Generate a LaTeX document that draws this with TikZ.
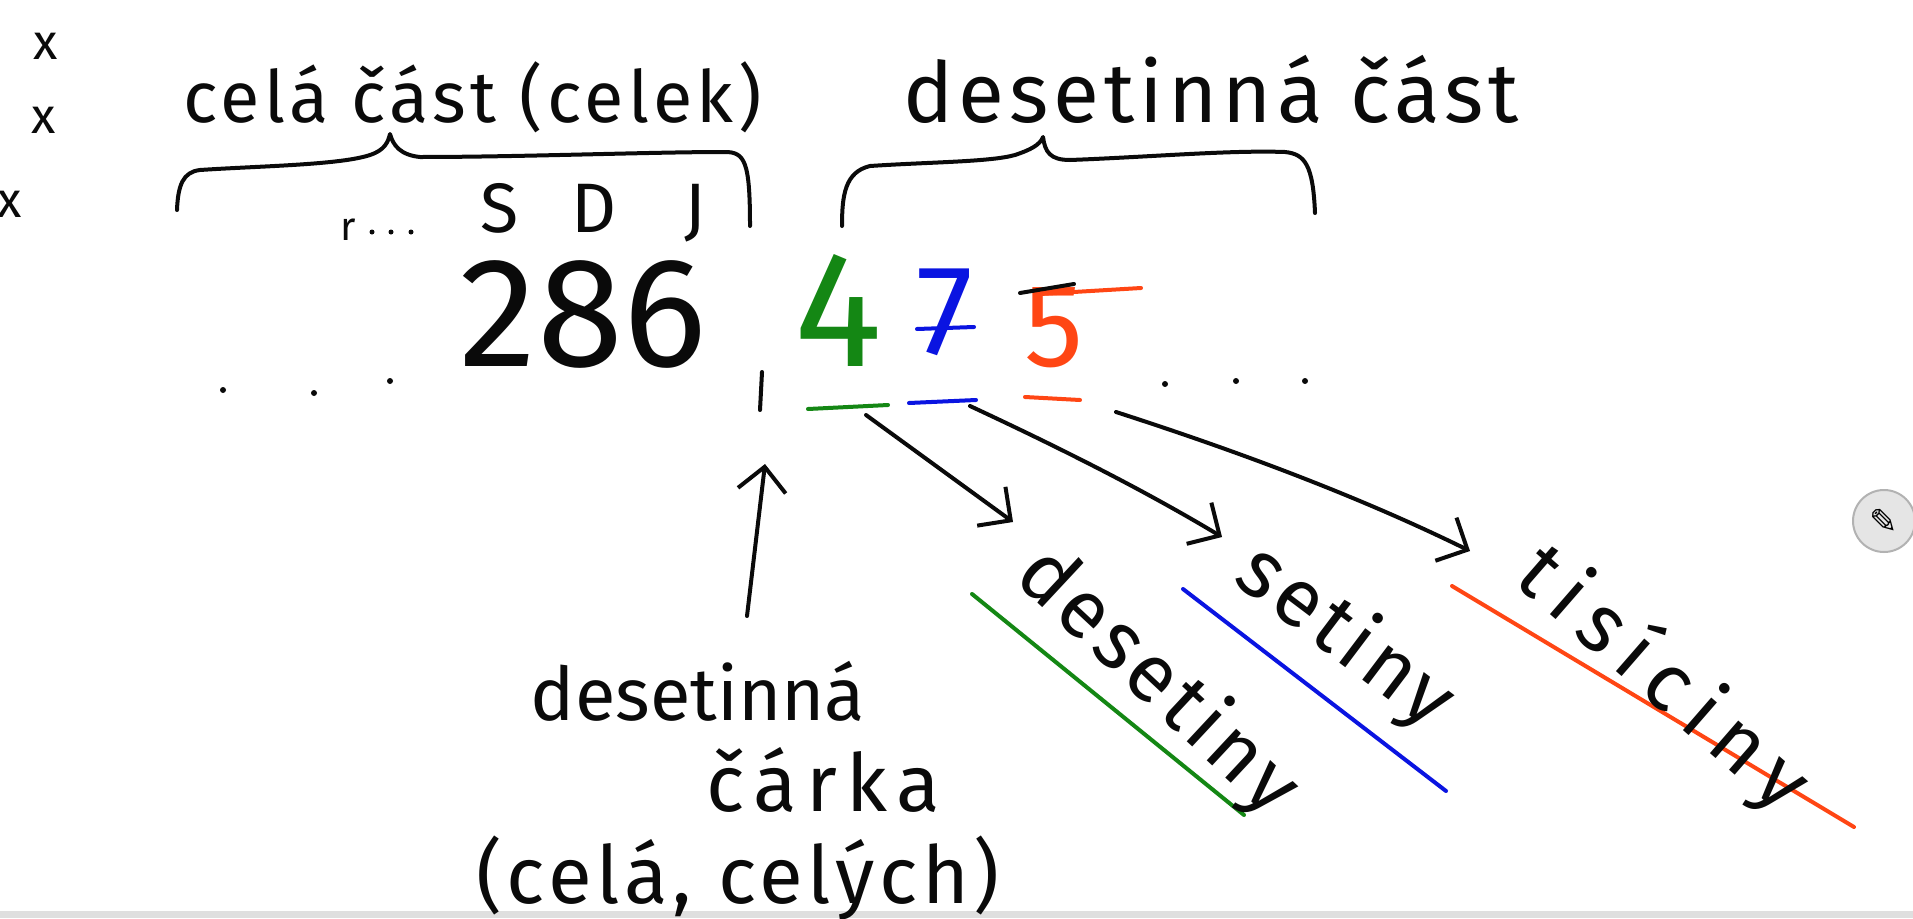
\documentclass[tikz,border=0pt]{standalone}
\usepackage{fontspec}
\newfontfamily\handL{Fira Sans}
\newfontfamily\handX{Fira Sans}
\newfontfamily\symf{DejaVu Sans}
\usetikzlibrary{arrows.meta}
\definecolor{hgreen}{RGB}{20,135,20}
\definecolor{hblue}{RGB}{10,20,225}
\definecolor{hred}{RGB}{255,70,20}
\definecolor{ink}{RGB}{10,10,10}
\tikzset{
  pen/.style={line width=4pt,line cap=round,line join=round,draw=ink},
  harrow/.style={pen,-{Straight Barb[length=24pt,width=48pt,line width=4pt]}},
  word/.style={inner sep=0pt,text=ink,font=\handL\addfontfeature{LetterSpace=6}\fontsize{#1}{#1}\selectfont},
  spaced/.style={inner sep=0pt,text=ink,font=\handL\addfontfeature{LetterSpace=16}\fontsize{#1}{#1}\selectfont},
  plain/.style={inner sep=0pt,text=ink,font=\handL\fontsize{#1}{#1}\selectfont},
  digit/.style={inner sep=0pt,font=\handX\fontsize{#1}{#1}\selectfont},
  dot/.style={circle,fill=ink,inner sep=0pt,minimum size=6pt},
  uline/.style={line width=4pt,line cap=round,draw=#1}
}
\begin{document}
\begin{tikzpicture}[x=1pt,y=-1pt]
\useasboundingbox (0,0) rectangle (1913,918);
\fill[white] (0,0) rectangle (1913,918);
\fill[gray!25] (0,911) rectangle (1913,918);

% left margin marks
\node[plain=50] (m1) at (46,46) {x};
\node[plain=50] (m2) at (44,120) {x};
\node[plain=50] (m3) at (10,204) {x};

% headings
\node[word=72,anchor=base west] (cela) at (183,122) {celá část (celek)};
\node[word=84,anchor=base west] (dest) at (903,122) {desetinná část};

% braces
\draw[pen] (177,210) .. controls (178,185) and (183,172) .. (200,170)
  .. controls (260,166) and (340,165) .. (370,155)
  .. controls (385,150) and (388,142) .. (390,134)
  .. controls (393,145) and (400,155) .. (420,157)
  .. controls (520,157) and (650,152) .. (725,152)
  .. controls (745,152) and (750,162) .. (750,226);
\draw[pen] (842,226) .. controls (842,195) and (845,172) .. (870,166)
  .. controls (930,162) and (990,162) .. (1015,155)
  .. controls (1030,150) and (1040,145) .. (1043,137)
  .. controls (1045,152) and (1050,160) .. (1070,160)
  .. controls (1150,157) and (1230,150) .. (1285,152)
  .. controls (1305,154) and (1313,165) .. (1315,213);

% place values
\node[plain=40,anchor=base] (r) at (348,240) {r};
\node[dot,minimum size=5pt] (p1) at (372,232) {};
\node[dot,minimum size=5pt] (p2) at (391,232) {};
\node[dot,minimum size=5pt] (p3) at (411,232) {};
\node[plain=70,anchor=base] (S) at (500,232) {S};
\node[plain=70,anchor=base] (D) at (594,232) {D};
\node[plain=70,anchor=base] (J) at (695,232) {J};

% number
\node[digit=156,anchor=base,text=ink] (n286) at (583,366) {286};
\draw[pen] (762,372) -- (760,410);
\node[digit=165,anchor=base,text=hgreen] (d4) at (838,366) {4};
\node[digit=128,anchor=base,text=hblue] (d7) at (945,354) {7};
\draw[uline=hblue] (917,329) -- (974,327);
\node[digit=118,anchor=base,text=hred] (d5) at (1054,366) {5};
\draw[pen] (1020,293) -- (1074,284);
\draw[uline=hred] (1040,294) -- (1141,288);

% dots
\node[dot] (l1) at (223,390) {};
\node[dot] (l2) at (314,393) {};
\node[dot] (l3) at (390,381) {};
\node[dot] (r1) at (1165,384) {};
\node[dot] (r2) at (1236,381) {};
\node[dot] (r3) at (1305,381) {};

% underlines
\draw[uline=hgreen] (808,409) -- (888,405);
\draw[uline=hblue] (909,403) -- (976,400);
\draw[uline=hred] (1025,397) -- (1080,400);

\coordinate (s1) at (866,415);
\coordinate (s2) at (970,406);
\coordinate (s3) at (1116,412);
\coordinate (e1) at (1013,522);
\coordinate (e2) at (1222,537);
\coordinate (e3) at (1470,551);
\draw[harrow] (s1) -- (e1);
\draw[harrow] (s2) .. controls (1058,447) and (1142,489) .. (e2);
\draw[harrow] (s3) .. controls (1240,452) and (1360,497) .. (e3);

% comma label
\coordinate (c0) at (747,616);
\coordinate (c1) at (765,464);
\draw[harrow] (c0) -- (c1);
\node[plain=74,anchor=base] (w1) at (698,720) {desetinná};
\node[inner sep=0pt,text=ink,font=\handL\addfontfeature{LetterSpace=12}\fontsize{80}{80}\selectfont,anchor=base] (w2) at (823,811) {čárka};
\node[word=80,anchor=base] (w3) at (738,903) {(celá, celých)};

% rotated labels
\draw[uline=hgreen] (972,594) -- (1244,815);
\draw[uline=hblue] (1183,589) -- (1446,791);
\draw[uline=hred] (1452,586) -- (1854,827);
\node[word=82,rotate=-43] (desetiny) at (1157,682) {desetiny};
\node[word=82,rotate=-37] (setiny) at (1345,638) {setiny};
\node[spaced=82,rotate=-41] (tisiciny) at (1662,680) {tisíciny};

% pencil icon
\node[circle,fill=gray!20,draw=gray!60,line width=2pt,minimum size=62pt,inner sep=0pt] (pencil) at (1884,521) {\symf\fontsize{34}{34}\selectfont ✎};
\end{tikzpicture}
\end{document}
